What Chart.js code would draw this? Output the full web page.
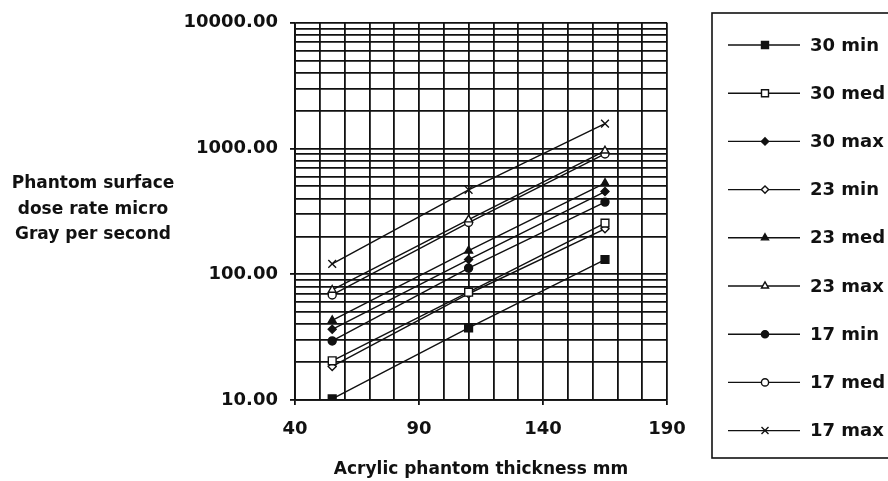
<!DOCTYPE html>
<html>
<head>
<meta charset="utf-8">
<script src="https://cdn.jsdelivr.net/npm/chart.js@4/dist/chart.umd.min.js"></script>
<style>
  body { margin: 0; background: #fff; }
  canvas { display: block; background: #fff; }
</style>
</head>
<body>
<canvas id="doseChart" width="888" height="481"></canvas>
<script>
// thickness of acrylic phantom (mm)
const thickness = [55, 110, 165];

// dose rate, micro Gray per second
const s30min = [10.2, 37.5, 131];
const s30med = [20.5, 72, 255];
const s30max = [36.5, 131, 455];
const s23min = [18.5, 70, 230];
const s23med = [43, 154, 530];
const s23max = [75, 272, 960];
const s17min = [29.5, 112, 375];
const s17med = [68.5, 258, 905];
const s17max = [121, 470, 1580];

const seriesNames = ['30 min', '30 med', '30 max', '23 min', '23 med', '23 max', '17 min', '17 med', '17 max'];
const seriesValues = [s30min, s30med, s30max, s23min, s23med, s23max, s17min, s17med, s17max];

const xTickLabels = [40, 90, 140, 190];
const yTickLabels = [10, 100, 1000, 10000];
const yTitleLines = ['Phantom surface', 'dose rate micro', 'Gray per second'];
const xTitle = 'Acrylic phantom thickness mm';

// marker look per series (style only)
const markers = [
  { style: 'rect', fill: '#111', r: 5.5 },
  { style: 'rect', fill: '#fff', r: 5.5 },
  { style: 'rectRot', fill: '#111', r: 4 },
  { style: 'rectRot', fill: '#fff', r: 4 },
  { style: 'triangle', fill: '#111', r: 4.5 },
  { style: 'triangle', fill: '#fff', r: 4.5 },
  { style: 'circle', fill: '#111', r: 4 },
  { style: 'circle', fill: '#fff', r: 4 },
  { style: 'crossRot', fill: '#fff', r: 5.5 }
];

const INK = '#111';
const FONT = '"DejaVu Sans", "Liberation Sans", sans-serif';

const isDecade = v => Math.abs(Math.log10(v) - Math.round(Math.log10(v))) < 1e-9;

// legend and horizontal y title
const extras = {
  id: 'extras',
  afterDraw(chart) {
    const ctx = chart.ctx;
    ctx.save();
    // y title
    ctx.fillStyle = INK;
    ctx.font = 'bold 17px ' + FONT;
    ctx.textAlign = 'center';
    ctx.textBaseline = 'middle';
    yTitleLines.forEach((t, i) => ctx.fillText(t, 93, 184 + i * 25.5));

    // legend box
    ctx.strokeStyle = INK;
    ctx.lineWidth = 1.6;
    ctx.strokeRect(712, 13, 200, 445);
    chart.data.datasets.forEach((ds, i) => {
      const y = 45 + i * 48.2;
      ctx.strokeStyle = INK;
      ctx.lineWidth = 1.4;
      ctx.beginPath();
      ctx.moveTo(728, y);
      ctx.lineTo(800, y);
      ctx.stroke();
      ctx.fillStyle = ds.pointBackgroundColor;
      Chart.helpers.drawPoint(ctx, {
        pointStyle: ds.pointStyle,
        radius: ds.pointRadius * 0.9,
        rotation: 0,
        borderWidth: 1.4
      }, 765, y);
      ctx.fillStyle = INK;
      ctx.font = 'bold 18px ' + FONT;
      ctx.textAlign = 'left';
      ctx.textBaseline = 'middle';
      ctx.fillText(ds.label, 810, y + 1);
    });
    ctx.restore();
  }
};

const datasets = seriesNames.map((name, i) => ({
  label: name,
  data: thickness.map((x, j) => ({ x: x, y: seriesValues[i][j] })),
  borderColor: INK,
  borderWidth: 1.4,
  pointStyle: markers[i].style,
  pointRadius: markers[i].r,
  pointBackgroundColor: markers[i].fill,
  pointBorderColor: INK,
  pointBorderWidth: 1.4,
  tension: 0
}));

new Chart(document.getElementById('doseChart'), {
  type: 'line',
  data: { datasets: datasets },
  options: {
    responsive: false,
    animation: false,
    devicePixelRatio: 1,
    layout: { padding: { top: 19, right: 221, left: 0, bottom: 0 } },
    plugins: {
      legend: { display: false },
      tooltip: { enabled: false }
    },
    scales: {
      x: {
        type: 'linear',
        min: 40,
        max: 190,
        afterFit: s => { s.height = 81; },
        ticks: {
          stepSize: 10,
          autoSkip: false,
          maxRotation: 0,
          padding: 14,
          color: INK,
          font: { family: FONT, size: 18, weight: 'bold' },
          callback: v => xTickLabels.includes(v) ? String(v) : ''
        },
        grid: {
          color: '#111',
          lineWidth: 1.8,
          tickLength: 5,
          tickColor: c => (c.tick && xTickLabels.includes(c.tick.value)) ? INK : 'rgba(0,0,0,0)'
        },
        border: { color: INK, width: 1.8 },
        title: {
          display: true,
          text: xTitle,
          color: INK,
          font: { family: FONT, size: 17, weight: 'bold' },
          padding: { top: 0, bottom: 1 }
        }
      },
      y: {
        type: 'logarithmic',
        min: 10,
        max: 10000,
        afterFit: s => { s.width = 295; },
        afterBuildTicks: s => {
          const vals = [];
          for (let e = 1; e < 4; e++) {
            for (let k = 1; k < 10; k++) vals.push(k * Math.pow(10, e));
          }
          vals.push(10000);
          s.ticks = vals.map(v => ({ value: v, major: isDecade(v) }));
        },
        ticks: {
          autoSkip: false,
          padding: 12,
          color: INK,
          font: { family: FONT, size: 18, weight: 'bold' },
          callback: v => yTickLabels.includes(v) ? v.toFixed(2) : ''
        },
        grid: {
          color: '#111',
          lineWidth: 1.8,
          tickLength: 5,
          tickColor: c => (c.tick && isDecade(c.tick.value)) ? INK : 'rgba(0,0,0,0)'
        },
        border: { color: INK, width: 1.8 }
      }
    }
  },
  plugins: [extras]
});
</script>
</body>
</html>
